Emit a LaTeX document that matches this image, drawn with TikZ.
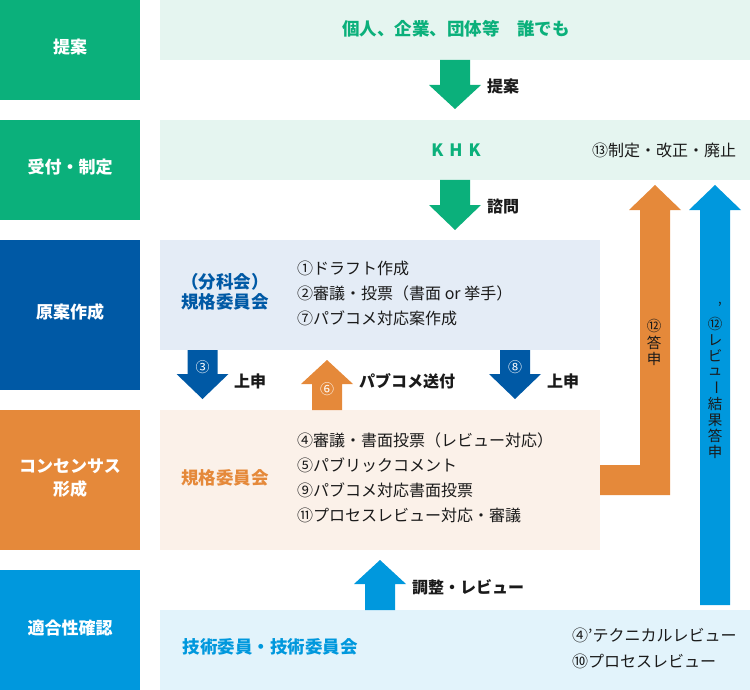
\documentclass[tikz,border=0pt]{standalone}
\usepackage{fontspec}
\setmainfont{Noto Sans CJK JP}
\definecolor{cgreen}{HTML}{0BB07B}
\definecolor{cdblue}{HTML}{0059A5}
\definecolor{corange}{HTML}{E5893A}
\definecolor{clblue}{HTML}{0098DD}
\definecolor{pgreen}{HTML}{E5F5F0}
\definecolor{pgrey}{HTML}{E4ECF6}
\definecolor{porange}{HTML}{FBF1E9}
\definecolor{pblue}{HTML}{E2F3FB}
\definecolor{ctext}{HTML}{1A1A1A}
\newcommand\bkdown[5]{\fill[#1] (#2-15,#3) -- (#2+15,#3) -- (#2+15,#4) -- (#2+26,#4) -- (#2,#5) -- (#2-26,#4) -- (#2-15,#4) -- cycle;}
\newcommand\bkup[5]{\fill[#1] (#2-15,#3) -- (#2+15,#3) -- (#2+15,#4) -- (#2+26,#4) -- (#2,#5) -- (#2-26,#4) -- (#2-15,#4) -- cycle;}
\tikzset{
  lefttxt/.style={text=white,font=\fontsize{17}{20}\selectfont\bfseries,inner sep=0pt,align=center},
  body/.style={text=ctext,font=\fontsize{16}{19}\selectfont,inner sep=0pt},
  bodyb/.style={text=ctext,font=\fontsize{16}{19}\selectfont\bfseries,inner sep=0pt},
  listline/.style={body,anchor=west},
  vchar/.style={text=ctext,font=\fontsize{14.5}{16}\selectfont,inner sep=0pt},
  numlbl/.style={text=white,font=\fontsize{14}{16}\selectfont,inner sep=0pt},
  headtxt/.style={font=\fontsize{17.5}{21}\selectfont\bfseries,inner sep=0pt,align=center}
}
\begin{document}
\begin{tikzpicture}[x=1pt,y=-1pt]
\useasboundingbox (0,0) rectangle (750,690);
% left column
\fill[cgreen] (0,0) rectangle (140,100);
\fill[cgreen] (0,120) rectangle (140,220);
\fill[cdblue] (0,240) rectangle (140,390);
\fill[corange] (0,410) rectangle (140,550);
\fill[clblue] (0,570) rectangle (140,690);
\node[lefttxt] (l1) at (70,47) {提案};
\node[lefttxt] (l2) at (70,167) {受付・制定};
\node[lefttxt] (l3) at (70,312) {原案作成};
\node[lefttxt] (l4a) at (70,466) {コンセンサス};
\node[lefttxt] (l4b) at (70,489) {形成};
\node[lefttxt] (l5) at (70,628) {適合性確認};
% panels
\fill[pgreen] (160,0) rectangle (750,60);
\fill[pgreen] (160,120) rectangle (750,180);
\fill[pgrey] (160,240) rectangle (600,350);
\fill[porange] (160,410) rectangle (600,550);
\fill[pblue] (160,610) rectangle (750,690);
% panel texts
\node[headtxt,text=cgreen] (p1) at (456,29) {個人、企業、団体等　誰でも};
\node[headtxt,text=cgreen,font=\fontsize{17}{20}\selectfont\bfseries] (khk) at (456,150) {K\hspace{6pt}H\hspace{6pt}K};
\node[body,anchor=west] (p2r) at (592,150) {⑬制定・改正・廃止};
\node[headtxt,text=cdblue] (p3a) at (225,282) {（分科会）};
\node[headtxt,text=cdblue] (p3b) at (225,302) {規格委員会};
\node[listline] (s1) at (297,268) {①ドラフト作成};
\node[listline] (s2) at (297,293) {②審議・投票（書面 or 挙手）};
\node[listline] (s3) at (297,318) {⑦パブコメ対応案作成};
\node[headtxt,text=corange] (p4) at (225,478) {規格委員会};
\node[listline] (c1) at (297,440) {④審議・書面投票（レビュー対応）};
\node[listline] (c2) at (297,465) {⑤パブリックコメント};
\node[listline] (c3) at (297,490) {⑨パブコメ対応書面投票};
\node[listline] (c4) at (297,515) {⑪プロセスレビュー対応・審議};
\node[headtxt,text=clblue] (p5) at (270,647) {技術委員・技術委員会};
\node[listline] (t1) at (572,635) {④'テクニカルレビュー};
\node[listline] (t2) at (572,661) {⑩プロセスレビュー};
% arrows
\bkdown{cgreen}{455}{60}{85}{109}
\node[bodyb,anchor=west] (a1) at (487,86) {提案};
\bkdown{cgreen}{455}{180}{205}{230}
\node[bodyb,anchor=west] (a2) at (487,206) {諮問};
\bkdown{cdblue}{202.5}{350}{374}{399}
\node[numlbl] (n3) at (202.5,367) {③};
\node[bodyb,anchor=west] (a3) at (234,381) {上申};
\bkup{corange}{327}{410}{384}{360}
\node[numlbl] (n6) at (327,389) {⑥};
\node[bodyb,anchor=west] (a6) at (359,381) {パブコメ送付};
\bkdown{cdblue}{515}{350}{374}{399}
\node[numlbl] (n8) at (515,367) {⑧};
\node[bodyb,anchor=west] (a8) at (547,381) {上申};
\bkup{clblue}{380}{610}{584}{560}
\node[bodyb,anchor=west] (a9) at (412,587) {調整・レビュー};
% orange L arrow
\fill[corange] (600,465) -- (640,465) -- (640,210) -- (629,210) -- (655,185) -- (681,210) -- (670,210) -- (670,495) -- (600,495) -- cycle;
\node[vchar] (o1) at (654,326) {⑫};
\node[vchar] (o2) at (654,343) {答};
\node[vchar] (o3) at (654,359) {申};
% blue long arrow
\fill[clblue] (700,605) -- (700,210) -- (689,210) -- (715,185) -- (741,210) -- (730,210) -- (730,605) -- cycle;
\node[vchar] (bq) at (720,308) {'};
\node[vchar] (b1) at (715,324) {⑫};
\node[vchar] (b2) at (715,340) {レ};
\node[vchar] (b3) at (715,356) {ビ};
\node[vchar] (b4) at (715,372) {ュ};
\node[vchar,rotate=-90] (b5) at (715,388) {ー};
\node[vchar] (b6) at (715,404) {結};
\node[vchar] (b7) at (715,420) {果};
\node[vchar] (b8) at (715,436) {答};
\node[vchar] (b9) at (715,452) {申};
\end{tikzpicture}
\end{document}
